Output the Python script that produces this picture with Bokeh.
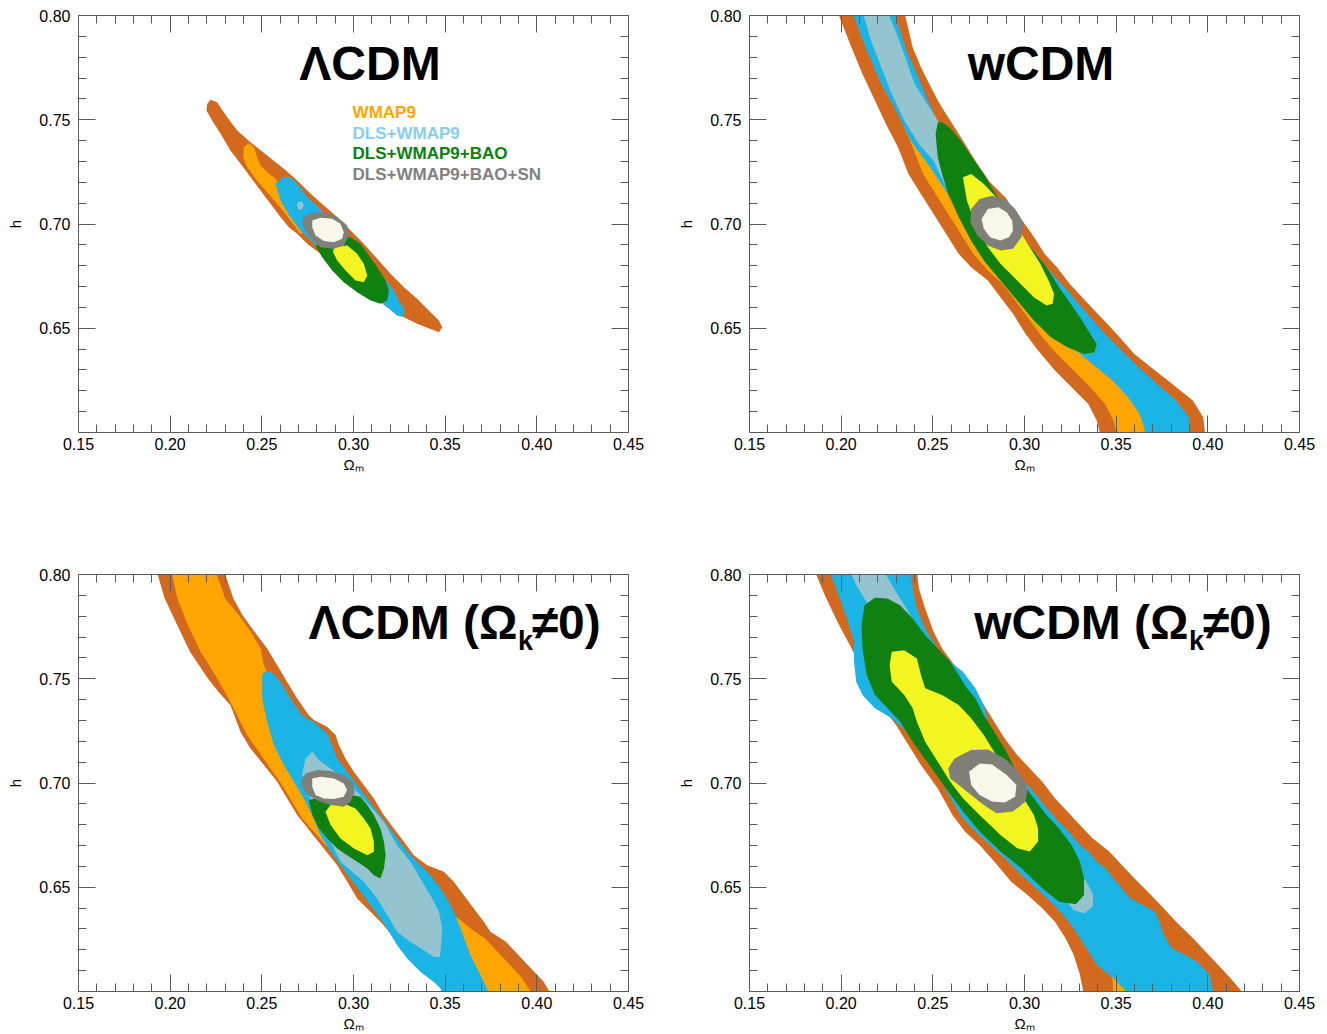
from bokeh.plotting import figure
from bokeh.models import (Range1d, FixedTicker, LinearAxis, PrintfTickFormatter,
                          CustomJSTickFormatter, Label)
from bokeh.layouts import column, row
from bokeh.embed import file_html
from bokeh.resources import INLINE

# ---------------------------------------------------------------- data
X_TICKS = [0.15, 0.20, 0.25, 0.30, 0.35, 0.40, 0.45]
Y_TICKS = [0.65, 0.70, 0.75, 0.80]
X_MINOR = [0.16, 0.17, 0.18, 0.19, 0.21, 0.22, 0.23, 0.24, 0.26, 0.27, 0.28, 0.29,
           0.31, 0.32, 0.33, 0.34, 0.36, 0.37, 0.38, 0.39, 0.41, 0.42, 0.43, 0.44]
Y_MINOR = [0.61, 0.62, 0.63, 0.64, 0.66, 0.67, 0.68, 0.69, 0.71, 0.72, 0.73, 0.74,
           0.76, 0.77, 0.78, 0.79]

LEGEND_LABELS = ["WMAP9", "DLS+WMAP9", "DLS+WMAP9+BAO", "DLS+WMAP9+BAO+SN"]

# ---- Panel 1 : LCDM (flat)
LCDM_WMAP9_2S = [(0.2220, 0.7596), (0.2256, 0.7584), (0.2311, 0.7512), (0.2366, 0.7448),
                 (0.2438, 0.7392), (0.2529, 0.7329), (0.2620, 0.7265), (0.2693, 0.7209),
                 (0.2766, 0.7145), (0.2838, 0.7089), (0.2911, 0.7033), (0.2984, 0.6969),
                 (0.3056, 0.6905), (0.3129, 0.6833), (0.3202, 0.6761), (0.3275, 0.6697),
                 (0.3347, 0.6641), (0.3420, 0.6577), (0.3466, 0.6537), (0.3484, 0.6505),
                 (0.3466, 0.6481), (0.3420, 0.6497), (0.3347, 0.6521), (0.3275, 0.6553),
                 (0.3184, 0.6601), (0.3093, 0.6665), (0.3002, 0.6729), (0.2911, 0.6793),
                 (0.2820, 0.6857), (0.2747, 0.6905), (0.2693, 0.6953), (0.2647, 0.6985),
                 (0.2602, 0.7033), (0.2547, 0.7097), (0.2493, 0.7161), (0.2438, 0.7225),
                 (0.2384, 0.7289), (0.2329, 0.7353), (0.2275, 0.7433), (0.2229, 0.7497),
                 (0.2198, 0.7544), (0.2202, 0.7576)]
LCDM_WMAP9_1S = [(0.2429, 0.7388), (0.2402, 0.7368), (0.2398, 0.7320), (0.2420, 0.7273),
                 (0.2466, 0.7217), (0.2520, 0.7161), (0.2575, 0.7105), (0.2629, 0.7049),
                 (0.2684, 0.6985), (0.2711, 0.6953), (0.2747, 0.6969), (0.2720, 0.7001),
                 (0.2656, 0.7097), (0.2602, 0.7177), (0.2575, 0.7217), (0.2529, 0.7249),
                 (0.2493, 0.7281), (0.2475, 0.7320), (0.2457, 0.7368)]
LCDM_DLS_2S = [(0.2620, 0.7228), (0.2575, 0.7193), (0.2602, 0.7113), (0.2656, 0.7033),
               (0.2711, 0.6969), (0.2784, 0.6905), (0.2856, 0.6841), (0.2929, 0.6777),
               (0.3020, 0.6713), (0.3111, 0.6649), (0.3184, 0.6601), (0.3238, 0.6561),
               (0.3274, 0.6553), (0.3278, 0.6593), (0.3256, 0.6617), (0.3220, 0.6681),
               (0.3165, 0.6745), (0.3075, 0.6841), (0.3002, 0.6905), (0.2929, 0.6969),
               (0.2847, 0.7049), (0.2747, 0.7129), (0.2693, 0.7193), (0.2656, 0.7222)]
LCDM_DLS_1S = [(0.2696, 0.7105), (0.2720, 0.7108), (0.2729, 0.7089), (0.2720, 0.7070),
               (0.2698, 0.7070), (0.2693, 0.7086)]
LCDM_BAO_2S = [(0.2793, 0.6897), (0.2829, 0.6841), (0.2884, 0.6777), (0.2947, 0.6721),
               (0.3020, 0.6673), (0.3093, 0.6633), (0.3147, 0.6617), (0.3184, 0.6633),
               (0.3193, 0.6681), (0.3175, 0.6729), (0.3129, 0.6793), (0.3084, 0.6849),
               (0.3038, 0.6905), (0.2984, 0.6937), (0.2893, 0.6937)]
LCDM_BAO_1S = [(0.2893, 0.6889), (0.2966, 0.6897), (0.3020, 0.6857), (0.3056, 0.6809),
               (0.3075, 0.6753), (0.3056, 0.6721), (0.3011, 0.6729), (0.2957, 0.6777),
               (0.2911, 0.6825), (0.2889, 0.6865)]
LCDM_SN_2S = [(0.2729, 0.7033), (0.2766, 0.7052), (0.2838, 0.7057), (0.2911, 0.7033),
              (0.2966, 0.6993), (0.2975, 0.6945), (0.2947, 0.6897), (0.2893, 0.6881),
              (0.2820, 0.6889), (0.2766, 0.6929), (0.2733, 0.6977), (0.2720, 0.7009)]
LCDM_SN_1S = [(0.2775, 0.7017), (0.2820, 0.7030), (0.2884, 0.7025), (0.2929, 0.7001),
              (0.2947, 0.6961), (0.2938, 0.6929), (0.2893, 0.6913), (0.2838, 0.6918),
              (0.2793, 0.6945), (0.2775, 0.6985)]

# ---- Panel 2 : wCDM (flat)
WCDM_WMAP9_2S = [(0.1979, 0.802), (0.2048, 0.7864), (0.2116, 0.772), (0.2184, 0.7592),
                 (0.2253, 0.7464), (0.231, 0.7368), (0.2367, 0.724), (0.2435, 0.7144),
                 (0.2504, 0.7048), (0.2572, 0.6953), (0.2641, 0.6857), (0.2709, 0.6793),
                 (0.280, 0.6729), (0.2869, 0.6649), (0.2937, 0.6569), (0.3006, 0.6473),
                 (0.3074, 0.6393), (0.3166, 0.6297), (0.3257, 0.6217), (0.3348, 0.6137),
                 (0.3394, 0.6057), (0.3417, 0.598),
                 (0.3987, 0.598), (0.3975, 0.6073), (0.3918, 0.6153), (0.385, 0.6201),
                 (0.3782, 0.6249), (0.369, 0.6313), (0.3599, 0.6377), (0.3519, 0.6457),
                 (0.3451, 0.6521), (0.3382, 0.6585), (0.3314, 0.6649), (0.3246, 0.6713),
                 (0.3177, 0.6793), (0.3109, 0.6857), (0.3065, 0.692), (0.301, 0.699),
                 (0.2955, 0.705), (0.2895, 0.7128), (0.2812, 0.720), (0.2755, 0.7272),
                 (0.2709, 0.7336), (0.2664, 0.740), (0.2618, 0.7464), (0.2572, 0.7528),
                 (0.2527, 0.7592), (0.2481, 0.7672), (0.2435, 0.7752), (0.239, 0.7848),
                 (0.2344, 0.802)]
WCDM_WMAP9_1S = [(0.2082, 0.802), (0.215, 0.7864), (0.2219, 0.772), (0.2287, 0.7592),
                 (0.2344, 0.7464), (0.239, 0.7368), (0.2447, 0.724), (0.2515, 0.7144),
                 (0.2584, 0.7048), (0.2652, 0.6953), (0.2721, 0.6857), (0.280, 0.6777),
                 (0.288, 0.6713), (0.2949, 0.6633), (0.3017, 0.6553), (0.3097, 0.6457),
                 (0.3177, 0.6377), (0.3268, 0.6297), (0.3359, 0.6217), (0.3439, 0.6137),
                 (0.3485, 0.6057), (0.3508, 0.598),
                 (0.3759, 0.598), (0.369, 0.6105), (0.3576, 0.6201), (0.3462, 0.6281),
                 (0.3348, 0.6361), (0.3234, 0.6457), (0.312, 0.6569), (0.3029, 0.6665),
                 (0.2937, 0.6761), (0.2846, 0.6857), (0.2755, 0.6953), (0.2664, 0.7064),
                 (0.2595, 0.7176), (0.2527, 0.7304), (0.2458, 0.7432), (0.2401, 0.756),
                 (0.2344, 0.7704), (0.2276, 0.788), (0.223, 0.802)]
WCDM_DLS_2S = [(0.2059, 0.802), (0.2139, 0.7832), (0.2219, 0.7672), (0.2299, 0.7544),
               (0.2378, 0.740), (0.2485, 0.7272), (0.257, 0.716), (0.264, 0.7064),
               (0.271, 0.6968), (0.2785, 0.6873), (0.287, 0.6777), (0.2955, 0.6681),
               (0.305, 0.6585), (0.315, 0.6489), (0.326, 0.6409), (0.337, 0.6329),
               (0.348, 0.6249), (0.3565, 0.6169), (0.3628, 0.6089), (0.3667, 0.598),
               (0.3907, 0.598), (0.3896, 0.6073), (0.3827, 0.6153), (0.3724, 0.6233),
               (0.3622, 0.6313), (0.3531, 0.6393), (0.3439, 0.6473), (0.3359, 0.6553),
               (0.328, 0.6633), (0.320, 0.6713), (0.312, 0.6793), (0.304, 0.6873),
               (0.2972, 0.6945), (0.2903, 0.7017), (0.2828, 0.7096), (0.2755, 0.7176),
               (0.2686, 0.7256), (0.2629, 0.7336), (0.2572, 0.7416), (0.2515, 0.7512),
               (0.2458, 0.7624), (0.2413, 0.772), (0.2356, 0.7832), (0.2287, 0.802)]
WCDM_DLS_1S = [(0.2116, 0.802), (0.2162, 0.788), (0.2219, 0.7752), (0.2276, 0.7624),
               (0.2344, 0.7496), (0.2424, 0.7384), (0.2504, 0.7304), (0.2572, 0.7176),
               (0.2709, 0.6985), (0.2846, 0.6825), (0.2983, 0.6857), (0.280, 0.7112),
               (0.2641, 0.7352), (0.255, 0.7464), (0.2481, 0.756), (0.2435, 0.7624),
               (0.2401, 0.7672), (0.2356, 0.7784), (0.231, 0.7896), (0.2253, 0.802)]
WCDM_BAO_2S = [(0.2527, 0.7488), (0.2515, 0.7432), (0.2527, 0.732), (0.255, 0.724),
               (0.2584, 0.7144), (0.2641, 0.7032), (0.2709, 0.692), (0.2778, 0.6825),
               (0.2869, 0.6729), (0.296, 0.6633), (0.3051, 0.6537), (0.3143, 0.6457),
               (0.3234, 0.6409), (0.3325, 0.6377), (0.3382, 0.6385), (0.3394, 0.6425),
               (0.3359, 0.6473), (0.3314, 0.6537), (0.3252, 0.6617), (0.3188, 0.6697),
               (0.312, 0.6793), (0.3047, 0.6873), (0.2978, 0.6953), (0.291, 0.7048),
               (0.2842, 0.7144), (0.2778, 0.724), (0.2714, 0.732), (0.2652, 0.740),
               (0.2591, 0.7464), (0.255, 0.7488)]
WCDM_BAO_1S = [(0.2709, 0.724), (0.2664, 0.7224), (0.2686, 0.7112), (0.2732, 0.700),
               (0.280, 0.6889), (0.2869, 0.6809), (0.296, 0.6729), (0.3051, 0.6649),
               (0.312, 0.6609), (0.3154, 0.6617), (0.3161, 0.6665), (0.3131, 0.6729),
               (0.3086, 0.6809), (0.3029, 0.6889), (0.2972, 0.6969), (0.2915, 0.7048),
               (0.2846, 0.7128), (0.2778, 0.7192)]
WCDM_SN_2S = [(0.2755, 0.712), (0.2823, 0.7136), (0.2892, 0.712), (0.2949, 0.7072),
              (0.2994, 0.7008), (0.2983, 0.6937), (0.2937, 0.6881), (0.2869, 0.6873),
              (0.280, 0.6897), (0.2743, 0.6945), (0.2705, 0.7008), (0.2709, 0.7072)]
WCDM_SN_1S = [(0.280, 0.7072), (0.2858, 0.708), (0.2903, 0.7056), (0.2933, 0.7016),
              (0.2937, 0.6968), (0.2915, 0.6937), (0.2869, 0.6921), (0.2812, 0.6937),
              (0.2778, 0.6977), (0.2766, 0.7024)]

# ---- Panel 3 : LCDM with curvature
OLCDM_WMAP9_2S = [(0.1925, 0.802), (0.1970, 0.7885), (0.2039, 0.7757), (0.2108, 0.7629),
                  (0.2205, 0.7502), (0.2265, 0.7435), (0.2329, 0.7373), (0.2384, 0.7245),
                  (0.2438, 0.7166), (0.2511, 0.7086), (0.2584, 0.7006), (0.2638, 0.6926),
                  (0.2693, 0.6846), (0.2765, 0.6766), (0.2838, 0.6686), (0.2911, 0.6606),
                  (0.2966, 0.6526), (0.3020, 0.6446), (0.3093, 0.6382), (0.3147, 0.6334),
                  (0.3220, 0.6260), (0.3350, 0.6150), (0.3450, 0.6050), (0.3500, 0.598),
                  (0.4082, 0.598), (0.4036, 0.6048), (0.3967, 0.6112), (0.3898, 0.6176),
                  (0.3830, 0.6240), (0.3747, 0.6286), (0.3711, 0.6334), (0.3656, 0.6398),
                  (0.3602, 0.6462), (0.3547, 0.6526), (0.3493, 0.6574), (0.3402, 0.6606),
                  (0.3329, 0.6654), (0.3275, 0.6718), (0.3220, 0.6782), (0.3165, 0.6846),
                  (0.3111, 0.6926), (0.3056, 0.6990), (0.3002, 0.7054), (0.2956, 0.7118),
                  (0.2920, 0.7182), (0.2902, 0.7230), (0.2856, 0.7270), (0.2784, 0.7302),
                  (0.2756, 0.7325), (0.2693, 0.7405), (0.2638, 0.7485), (0.2584, 0.7565),
                  (0.2529, 0.7645), (0.2460, 0.7725), (0.2395, 0.7805), (0.2345, 0.7885),
                  (0.2292, 0.802)]
OLCDM_WMAP9_1S = [(0.2005, 0.802), (0.2039, 0.7885), (0.2097, 0.7757), (0.2166, 0.7629),
                  (0.2245, 0.7518), (0.2310, 0.7420), (0.2365, 0.7325), (0.2420, 0.7229),
                  (0.2484, 0.7150), (0.2547, 0.7070), (0.2611, 0.6990), (0.2665, 0.6910),
                  (0.2720, 0.6830), (0.2850, 0.6700), (0.3100, 0.6450), (0.3300, 0.6220),
                  (0.3520, 0.598),
                  (0.3980, 0.598), (0.3920, 0.6064), (0.3853, 0.6128), (0.3784, 0.6192),
                  (0.3715, 0.6256), (0.3660, 0.6286), (0.3550, 0.6366), (0.3380, 0.6550),
                  (0.3250, 0.6700), (0.3000, 0.6950), (0.2830, 0.7180), (0.2660, 0.7350),
                  (0.2580, 0.7450), (0.2511, 0.7565), (0.2493, 0.7645), (0.2440, 0.7725),
                  (0.2375, 0.7805), (0.2300, 0.7885), (0.2246, 0.802)]
OLCDM_DLS_2S = [(0.2520, 0.7540), (0.2502, 0.7517), (0.2502, 0.7405), (0.2529, 0.7293),
                (0.2566, 0.7182), (0.2620, 0.7086), (0.2675, 0.7006), (0.2729, 0.6926),
                (0.2775, 0.6846), (0.2820, 0.6750), (0.2875, 0.6670), (0.2929, 0.6606),
                (0.2984, 0.6542), (0.3038, 0.6478), (0.3093, 0.6414), (0.3147, 0.6350),
                (0.3193, 0.6286), (0.3238, 0.6222), (0.3293, 0.6158), (0.3366, 0.6094),
                (0.3438, 0.6046), (0.3475, 0.6014), (0.3490, 0.598),
                (0.3745, 0.598), (0.3711, 0.6046), (0.3675, 0.6110), (0.3638, 0.6174),
                (0.3611, 0.6238), (0.3584, 0.6302), (0.3556, 0.6366), (0.3520, 0.6430),
                (0.3475, 0.6494), (0.3420, 0.6558), (0.3347, 0.6622), (0.3293, 0.6670),
                (0.3238, 0.6734), (0.3184, 0.6798), (0.3129, 0.6862), (0.3075, 0.6926),
                (0.3020, 0.6990), (0.2965, 0.7054), (0.2911, 0.7118), (0.2884, 0.7181),
                (0.2856, 0.7237), (0.2793, 0.7285), (0.2720, 0.7325), (0.2656, 0.7405),
                (0.2602, 0.7485), (0.2547, 0.7533)]
OLCDM_DLS_1S = [(0.2775, 0.7150), (0.2811, 0.7110), (0.2875, 0.7070), (0.3020, 0.6958),
                (0.3166, 0.6814), (0.3238, 0.6702), (0.3311, 0.6622), (0.3375, 0.6526),
                (0.3429, 0.6446), (0.3466, 0.6382), (0.3484, 0.6302), (0.3478, 0.6222),
                (0.3471, 0.6166), (0.3438, 0.6166), (0.3384, 0.6198), (0.3311, 0.6238),
                (0.3238, 0.6286), (0.3184, 0.6366), (0.3129, 0.6446), (0.3056, 0.6526),
                (0.2929, 0.6622), (0.2820, 0.6814), (0.2756, 0.6942), (0.2720, 0.7038),
                (0.2738, 0.7118)]
OLCDM_BAO_2S = [(0.2756, 0.6918), (0.2775, 0.6846), (0.2811, 0.6782), (0.2856, 0.6734),
                (0.2911, 0.6686), (0.2965, 0.6654), (0.3020, 0.6622), (0.3075, 0.6590),
                (0.3111, 0.6558), (0.3147, 0.6542), (0.3166, 0.6590), (0.3175, 0.6654),
                (0.3166, 0.6718), (0.3147, 0.6782), (0.3111, 0.6846), (0.3075, 0.6894),
                (0.3038, 0.6934), (0.2984, 0.6942), (0.2875, 0.6942)]
OLCDM_BAO_1S = [(0.2847, 0.6862), (0.2875, 0.6798), (0.2929, 0.6734), (0.3002, 0.6686),
                (0.3075, 0.6654), (0.3111, 0.6670), (0.3111, 0.6718), (0.3093, 0.6782),
                (0.3056, 0.6830), (0.3011, 0.6878), (0.2947, 0.6902), (0.2875, 0.6894)]
OLCDM_SN_2S = [(0.2720, 0.7022), (0.2738, 0.7046), (0.2802, 0.7062), (0.2875, 0.7057),
               (0.2947, 0.7038), (0.2993, 0.7006), (0.3006, 0.6958), (0.2984, 0.6910),
               (0.2947, 0.6886), (0.2875, 0.6894), (0.2820, 0.6910), (0.2765, 0.6934),
               (0.2729, 0.6966), (0.2714, 0.6998)]
OLCDM_SN_1S = [(0.2775, 0.7022), (0.2820, 0.7030), (0.2893, 0.7022), (0.2947, 0.6998),
               (0.2965, 0.6966), (0.2947, 0.6934), (0.2893, 0.6923), (0.2838, 0.6926),
               (0.2793, 0.6942), (0.2775, 0.6982)]

# ---- Panel 4 : wCDM with curvature
OWCDM_WMAP9_2S = [(0.1854, 0.802), (0.1911, 0.7901), (0.1979, 0.7773), (0.2048, 0.7661),
                  (0.2093, 0.7581), (0.2162, 0.7454), (0.223, 0.7358), (0.2299, 0.7278),
                  (0.2367, 0.7182), (0.2435, 0.7086), (0.2527, 0.6974), (0.2607, 0.6847),
                  (0.2675, 0.6767), (0.2755, 0.6703), (0.2835, 0.6623), (0.2926, 0.6527),
                  (0.3017, 0.6463), (0.3097, 0.6399), (0.3166, 0.6335), (0.3223, 0.6256),
                  (0.3268, 0.6176), (0.3302, 0.608), (0.3325, 0.598),
                  (0.4204, 0.598), (0.4124, 0.6064), (0.4055, 0.6128), (0.3987, 0.6192),
                  (0.3918, 0.6256), (0.3827, 0.6335), (0.3759, 0.6399), (0.369, 0.6463),
                  (0.3599, 0.6543), (0.3531, 0.6607), (0.3462, 0.6671), (0.3371, 0.6735),
                  (0.3302, 0.6799), (0.3234, 0.6863), (0.3166, 0.6927), (0.3097, 0.7006),
                  (0.3029, 0.707), (0.296, 0.7134), (0.2892, 0.7214), (0.2823, 0.731),
                  (0.2755, 0.7406), (0.2686, 0.7486), (0.2618, 0.7565), (0.255, 0.7645),
                  (0.2504, 0.7725), (0.2458, 0.7837), (0.2424, 0.7933), (0.2413, 0.802)]
OWCDM_WMAP9_1S = [(0.2200, 0.802), (0.2328, 0.802), (0.2340, 0.7933), (0.2363, 0.7837),
                  (0.2408, 0.7741), (0.2477, 0.7645), (0.2545, 0.7581), (0.2614, 0.7534),
                  (0.2682, 0.7454), (0.2950, 0.7000), (0.3000, 0.6900), (0.3700, 0.6150),
                  (0.3576, 0.598), (0.3485, 0.598), (0.3480, 0.6060), (0.3050, 0.6600),
                  (0.2400, 0.7500)]
OWCDM_DLS_2S = [(0.1933, 0.802), (0.1979, 0.7917), (0.2025, 0.7805), (0.207, 0.7677),
                (0.207, 0.7581), (0.2082, 0.7486), (0.2116, 0.7422), (0.2184, 0.7358),
                (0.2276, 0.731), (0.2356, 0.7246), (0.2424, 0.7166), (0.2492, 0.7086),
                (0.255, 0.7006), (0.2607, 0.6911), (0.2664, 0.6831), (0.2732, 0.6767),
                (0.2812, 0.6703), (0.2892, 0.6639), (0.2983, 0.6559), (0.3063, 0.6495),
                (0.3143, 0.6431), (0.3211, 0.6367), (0.328, 0.6288), (0.3337, 0.6208),
                (0.3394, 0.6128), (0.3485, 0.6064), (0.3576, 0.598),
                (0.4032, 0.598), (0.401, 0.608), (0.3941, 0.6144), (0.3873, 0.6176),
                (0.3804, 0.6208), (0.3759, 0.6272), (0.3736, 0.6335), (0.3713, 0.6383),
                (0.3645, 0.6415), (0.3576, 0.6447), (0.3531, 0.6495), (0.3485, 0.6543),
                (0.3439, 0.6591), (0.3394, 0.6623), (0.3348, 0.6671), (0.3302, 0.6703),
                (0.3257, 0.6751), (0.3188, 0.6815), (0.312, 0.6879), (0.3051, 0.6958),
                (0.2983, 0.7022), (0.2937, 0.7086), (0.2892, 0.715), (0.2846, 0.7214),
                (0.280, 0.7294), (0.2778, 0.7374), (0.2732, 0.7454), (0.2664, 0.7534),
                (0.2595, 0.7581), (0.2527, 0.7645), (0.2458, 0.7741), (0.2413, 0.7837),
                (0.239, 0.7933), (0.2378, 0.802)]
OWCDM_DLS_1S = [(0.2048, 0.802), (0.223, 0.802), (0.2299, 0.7917), (0.2367, 0.7821),
                (0.2458, 0.7677), (0.2618, 0.7454), (0.280, 0.7214), (0.2983, 0.6974),
                (0.3143, 0.6767), (0.3257, 0.6623), (0.3337, 0.6527), (0.3375, 0.6463),
                (0.3371, 0.6407), (0.3325, 0.6375), (0.3268, 0.6391), (0.3188, 0.6479),
                (0.3006, 0.6687), (0.280, 0.6911), (0.2572, 0.7198), (0.239, 0.7454),
                (0.2253, 0.7677), (0.215, 0.7853), (0.2082, 0.7949)]
OWCDM_BAO_2S = [(0.2184, 0.7888), (0.2127, 0.7853), (0.2111, 0.7757), (0.2116, 0.7645),
                (0.2139, 0.7518), (0.2184, 0.7422), (0.2253, 0.7358), (0.2321, 0.7294),
                (0.239, 0.7198), (0.2481, 0.7086), (0.2572, 0.6974), (0.2664, 0.6863),
                (0.2755, 0.6767), (0.2869, 0.6671), (0.2983, 0.6591), (0.3097, 0.6495),
                (0.3188, 0.6431), (0.328, 0.6419), (0.3325, 0.6463), (0.3325, 0.6543),
                (0.3302, 0.6623), (0.3257, 0.6703), (0.3188, 0.6783), (0.312, 0.6847),
                (0.3051, 0.6927), (0.2983, 0.7006), (0.2937, 0.7086), (0.2892, 0.7166),
                (0.2846, 0.723), (0.2778, 0.7326), (0.2732, 0.7406), (0.2686, 0.7454),
                (0.2641, 0.7518), (0.2595, 0.7581), (0.2527, 0.7645), (0.2458, 0.7709),
                (0.239, 0.7789), (0.2321, 0.7853), (0.2253, 0.7885)]
OWCDM_BAO_1S = [(0.2344, 0.7637), (0.2276, 0.7629), (0.2264, 0.7565), (0.2276, 0.7486),
                (0.2344, 0.7422), (0.239, 0.7358), (0.2413, 0.7294), (0.2458, 0.7198),
                (0.2527, 0.7102), (0.2595, 0.7006), (0.2664, 0.6927), (0.2755, 0.6847),
                (0.2869, 0.6751), (0.296, 0.6687), (0.3029, 0.6671), (0.3074, 0.6719),
                (0.3074, 0.6783), (0.3051, 0.6847), (0.3006, 0.6911), (0.296, 0.6974),
                (0.2915, 0.7038), (0.2869, 0.7102), (0.2823, 0.7166), (0.2778, 0.723),
                (0.2709, 0.731), (0.2641, 0.7374), (0.255, 0.7422), (0.2458, 0.7454),
                (0.2435, 0.7518), (0.2413, 0.7597)]
OWCDM_SN_2S = [(0.2584, 0.707), (0.2618, 0.7118), (0.2709, 0.7158), (0.280, 0.7161),
               (0.2892, 0.7118), (0.2983, 0.7038), (0.3017, 0.6974), (0.3006, 0.6911),
               (0.2937, 0.6863), (0.2846, 0.6855), (0.2778, 0.6895), (0.2709, 0.6942),
               (0.2641, 0.699), (0.2595, 0.7022)]
OWCDM_SN_1S = [(0.2698, 0.7054), (0.2755, 0.7094), (0.2823, 0.7089), (0.2903, 0.7038),
               (0.2956, 0.699), (0.2949, 0.6934), (0.2892, 0.6907), (0.2823, 0.6911),
               (0.2755, 0.6942), (0.2709, 0.699)]

# ---------------------------------------------------------------- style
FONT = "Liberation Sans"
AXIS_COLOR = "#5a5a5a"
FILL_COLORS = ["#D2691E", "#FFA500", "#1CB4E4", "#95C4D1",
               "#108010", "#F2F520", "#808078", "#F8F8EA"]
LEGEND_COLORS = ["#FFA500", "#87CEEB", "#0A800A", "#808080"]

PANELS = [
    dict(contours=[LCDM_WMAP9_2S, LCDM_WMAP9_1S, LCDM_DLS_2S, LCDM_DLS_1S,
                   LCDM_BAO_2S, LCDM_BAO_1S, LCDM_SN_2S, LCDM_SN_1S],
         title="ΛCDM", sub=False, legend=True, col=0, top=True),
    dict(contours=[WCDM_WMAP9_2S, WCDM_WMAP9_1S, WCDM_DLS_2S, WCDM_DLS_1S,
                   WCDM_BAO_2S, WCDM_BAO_1S, WCDM_SN_2S, WCDM_SN_1S],
         title="wCDM", sub=False, legend=False, col=1, top=True),
    dict(contours=[OLCDM_WMAP9_2S, OLCDM_WMAP9_1S, OLCDM_DLS_2S, OLCDM_DLS_1S,
                   OLCDM_BAO_2S, OLCDM_BAO_1S, OLCDM_SN_2S, OLCDM_SN_1S],
         title="ΛCDM (Ω", sub=True, legend=False, col=0, top=False),
    dict(contours=[OWCDM_WMAP9_2S, OWCDM_WMAP9_1S, OWCDM_DLS_2S, OWCDM_DLS_1S,
                   OWCDM_BAO_2S, OWCDM_BAO_1S, OWCDM_SN_2S, OWCDM_SN_1S],
         title="wCDM (Ω", sub=True, legend=False, col=1, top=False),
]


def style_axis(ax, ticks, minor, labels):
    ax.ticker = FixedTicker(ticks=ticks, minor_ticks=minor)
    ax.major_tick_in = 17
    ax.major_tick_out = 0
    ax.minor_tick_in = 8
    ax.minor_tick_out = 0
    ax.axis_line_color = AXIS_COLOR
    ax.major_tick_line_color = AXIS_COLOR
    ax.minor_tick_line_color = AXIS_COLOR
    ax.axis_line_width = 1
    ax.major_label_text_font = FONT
    ax.major_label_text_font_size = "16px"
    ax.major_label_text_color = "#000000"
    ax.axis_label_text_font = FONT
    ax.axis_label_text_font_size = "15px"
    ax.axis_label_text_font_style = "normal"
    ax.axis_label_text_color = "#000000"
    if labels:
        ax.formatter = PrintfTickFormatter(format="%.2f")
    else:
        ax.formatter = CustomJSTickFormatter(code="return ''")
        ax.major_label_standoff = 0


def big_label(x, y, text, size, align):
    return Label(x=x, y=y, text=text, text_font=FONT, text_font_size=size,
                 text_font_style="bold", text_align=align, text_baseline="middle",
                 text_color="black")


def make_panel(cfg):
    if cfg["col"] == 0:
        bl, br = 78, 35
    else:
        bl, br = 86, 28
    if cfg["top"]:
        bt, bb = 15, 85
    else:
        bt, bb = 57, 43
    p = figure(frame_width=550, frame_height=417,
               x_range=Range1d(0.15, 0.45), y_range=Range1d(0.60, 0.80),
               output_backend="svg", toolbar_location=None,
               min_border_left=bl, min_border_right=br,
               min_border_top=bt, min_border_bottom=bb)
    p.grid.visible = False
    p.outline_line_color = None
    p.background_fill_color = "white"
    p.border_fill_color = "white"

    for pts, color in zip(cfg["contours"], FILL_COLORS):
        xs = [pt[0] for pt in pts]
        ys = [pt[1] for pt in pts]
        p.patch(xs, ys, fill_color=color, line_color=None)

    bx = p.below[0]
    ly = p.left[0]
    style_axis(bx, X_TICKS, X_MINOR, True)
    style_axis(ly, Y_TICKS, Y_MINOR, True)
    bx.axis_label = "Ωₘ"
    bx.major_label_standoff = 5
    bx.axis_label_standoff = 3
    ly.axis_label = "h"
    ly.major_label_standoff = 8
    ly.axis_label_standoff = 12

    ax_top = LinearAxis()
    style_axis(ax_top, X_TICKS, X_MINOR, False)
    p.add_layout(ax_top, "above")
    ax_right = LinearAxis()
    style_axis(ax_right, Y_TICKS, Y_MINOR, False)
    p.add_layout(ax_right, "right")

    if not cfg["sub"]:
        p.add_layout(big_label(0.309, 0.7772, cfg["title"], "48px", "center"))
    else:
        p.add_layout(big_label(0.3895, 0.7772, cfg["title"], "48px", "right"))
        p.add_layout(big_label(0.3897, 0.7683, "k", "27px", "left"))
        p.add_layout(big_label(0.3972, 0.7772, "≠0)", "48px", "left"))

    if cfg["legend"]:
        ys = [0.7534, 0.7436, 0.7338, 0.7239]
        for txt, col, yy in zip(LEGEND_LABELS, LEGEND_COLORS, ys):
            p.add_layout(Label(x=0.2995, y=yy, text=txt, text_font=FONT,
                               text_font_size="17px", text_font_style="bold",
                               text_align="left", text_baseline="middle",
                               text_color=col))
    return p


figs = [make_panel(c) for c in PANELS]
layout = column(row(figs[0], figs[1]), row(figs[2], figs[3]))

open("out.html", "w").write(file_html(layout, INLINE))
